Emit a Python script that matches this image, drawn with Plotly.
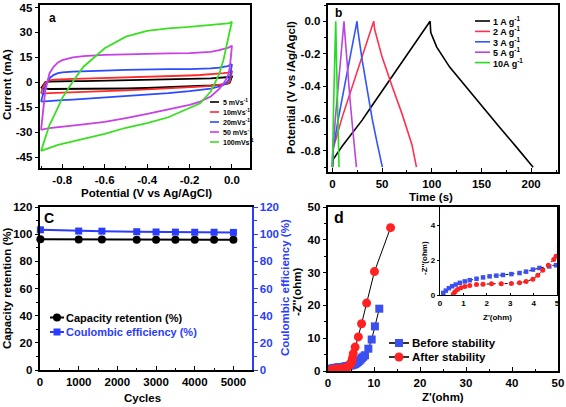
import plotly.graph_objects as go

W, H = 566, 407
FONT = "Liberation Sans, Arial, sans-serif"

# ---------------- Panel a: CV curves ----------------
V_GRID = [-0.9, -0.89, -0.88, -0.86, -0.84, -0.82, -0.8, -0.75, -0.7, -0.6, -0.5,
          -0.4, -0.3, -0.2, -0.15, -0.1, -0.06, -0.04, -0.02, -0.01, 0.0]
cv_labels = ["5 mVs<sup>-1</sup>", "10mVs<sup>-1</sup>", "20mVs<sup>-1</sup>",
             "50 mVs<sup>-1</sup>", "100mVs<sup>-1</sup>"]
cv_5_fwd = [-3.6, -1.5, 0.2, 0.5, 0.6, 0.6, 0.6, 0.7, 0.7, 0.9, 1.3, 1.7, 1.9, 2.1, 2.2, 2.4, 2.6, 2.8, 3.0, 3.2, 3.4]
cv_5_rev = [-3.6, -3.7, -3.8, -4.0, -4.1, -4.2, -4.2, -4.2, -4.1, -3.9, -3.7, -3.4, -3.0, -2.5, -2.2, -1.9, -1.5, -1.2, -0.8, -0.2, 3.4]
cv_10_fwd = [-6.6, -2.5, -0.2, 1.2, 1.6, 1.8, 1.9, 2.1, 2.2, 2.5, 2.9, 3.2, 3.6, 4.1, 4.4, 4.8, 5.2, 5.5, 5.9, 6.1, 6.4]
cv_10_rev = [-6.6, -6.6, -6.6, -6.5, -6.4, -6.3, -6.2, -6.0, -5.8, -5.4, -4.8, -4.2, -3.6, -3.0, -2.6, -2.1, -1.6, -1.2, -0.6, 0.5, 6.4]
cv_20_fwd = [-11.6, -6.0, -2.0, 2.5, 4.5, 5.5, 6.0, 6.5, 6.8, 7.1, 7.5, 7.9, 8.0, 8.0, 8.1, 8.4, 8.8, 9.2, 9.8, 10.3, 10.8]
cv_20_rev = [-11.6, -11.6, -11.5, -11.3, -11.1, -10.9, -10.7, -10.4, -10.0, -9.4, -8.3, -7.4, -6.5, -5.3, -4.6, -3.8, -2.5, -1.5, 0.5, 3.0, 10.8]
cv_50_fwd = [-28.6, -15.0, -5.0, 5.5, 9.5, 12.0, 13.3, 15.0, 15.8, 16.5, 16.9, 17.2, 17.4, 17.6, 17.8, 18.3, 19.3, 19.9, 20.7, 21.3, 22.0]
cv_50_rev = [-28.6, -28.3, -28.0, -27.5, -27.1, -26.8, -26.5, -25.9, -25.3, -23.8, -21.5, -19.0, -16.4, -13.5, -11.6, -8.5, -3.9, -0.8, 3.5, 9.0, 22.0]
cv_100_fwd = [-41.2, -37.5, -34.0, -25.5, -20.5, -14.5, -9.5, 0.5, 9.4, 20.5, 27.5, 31.0, 32.5, 33.3, 33.8, 34.3, 34.8, 35.1, 35.5, 35.8, 36.4]
cv_100_rev = [-41.2, -40.8, -40.3, -39.4, -38.5, -37.6, -36.8, -35.3, -33.8, -31.0, -27.3, -24.5, -21.0, -15.5, -12.6, -5.5, 5.0, 13.5, 24.5, 31.0, 36.4]
cv_colors = ["#000000", "#ff2a2a", "#2a4bff", "#c83fe6", "#3adf22"]
a_xticks = [-0.8, -0.6, -0.4, -0.2, 0.0]
a_xticktext = ["-0.8", "-0.6", "-0.4", "-0.2", "0.0"]
a_yticks = [-45, -30, -15, 0, 15, 30, 45]
a_yticktext = ["-45", "-30", "-15", "0", "15", "30", "45"]

# ---------------- Panel b: GCD curves ----------------
gcd_labels = ["1 A g<sup>-1</sup>", "2 A g<sup>-1</sup>", "3 A g<sup>-1</sup>",
              "5 A g<sup>-1</sup>", "10A g<sup>-1</sup>"]
gcd_1_t = [0, 1, 10, 20, 30, 40, 50, 60, 70, 80, 90, 95, 98.3, 99, 105, 118, 135, 152, 168, 185, 202]
gcd_1_v = [-0.9, -0.85, -0.77, -0.69, -0.61, -0.52, -0.43, -0.34, -0.25, -0.16, -0.07, -0.03, 0.0,
           -0.07, -0.16, -0.283, -0.41, -0.53, -0.652, -0.775, -0.9]
gcd_2_t = [0, 1, 10, 20, 30, 38, 41.6, 42.5, 50, 60, 70, 80, 84.6]
gcd_2_v = [-0.9, -0.78, -0.59, -0.4, -0.21, -0.07, 0.0, -0.05, -0.22, -0.4, -0.57, -0.76, -0.9]
gcd_3_t = [0, 0.5, 6, 12, 18.5, 24.8, 25.5, 30, 35, 40, 45, 50.3]
gcd_3_v = [-0.9, -0.8, -0.6, -0.4, -0.2, 0.0, -0.05, -0.24, -0.43, -0.6, -0.75, -0.9]
gcd_5_t = [0, 0.3, 3, 6, 9, 11.7, 12.2, 15, 18, 21, 24.2]
gcd_5_v = [-0.9, -0.82, -0.6, -0.38, -0.17, 0.0, -0.05, -0.28, -0.5, -0.7, -0.9]
gcd_10_t = [0, 0.3, 1.5, 2.5, 3.4, 4.0, 5.0, 6.0, 6.7]
gcd_10_v = [-0.9, -0.75, -0.45, -0.2, 0.0, -0.2, -0.45, -0.7, -0.9]
gcd_colors = ["#000000", "#ff3050", "#3355ff", "#bb44dd", "#22dd22"]
b_yticks = [0.0, -0.2, -0.4, -0.6, -0.8]
b_yticktext = ["0.0", "-0.2", "-0.4", "-0.6", "-0.8"]
b_xticks = [0, 50, 100, 150, 200]

# ---------------- Panel c: cycling ----------------
cycles = [10, 1000, 1600, 2500, 3000, 3500, 4000, 4500, 5000]
capacity_retention = [96.2, 96.0, 96.0, 95.9, 95.9, 95.9, 95.8, 95.8, 95.8]
coulombic_eff = [103.2, 102.3, 102.2, 101.8, 101.6, 101.5, 101.4, 101.4, 101.3]
c_xticks = [0, 1000, 2000, 3000, 4000, 5000]
c_yticks = [0, 20, 40, 60, 80, 100, 120]

# ---------------- Panel d: EIS ----------------
before_x = [0.14, 0.25, 0.38, 0.52, 0.67, 0.85, 1.06, 1.27, 1.56, 1.84, 2.12, 2.41, 2.69, 3.05,
            3.4, 3.68, 3.97, 4.25, 4.67, 4.96, 5.3, 5.6, 5.9, 6.2, 6.5, 6.8, 7.1, 7.4, 7.7,
            8.04, 8.77, 9.5, 10.2, 11.15]
before_y = [0.12, 0.25, 0.39, 0.5, 0.6, 0.7, 0.78, 0.85, 0.93, 1.01, 1.07, 1.11, 1.15, 1.2,
            1.26, 1.34, 1.46, 1.55, 1.64, 1.71, 1.8, 1.95, 2.15, 2.4, 2.75, 3.1, 3.5, 4.0, 4.4,
            4.8, 6.8, 9.6, 13.6, 19.0]
after_x = [0.57, 0.64, 0.75, 0.89, 1.06, 1.27, 1.56, 1.84, 2.2, 2.62, 3.05, 3.4, 3.68, 3.97,
           4.18, 4.39, 4.63, 4.86, 4.96, 5.1, 5.3, 5.5, 5.9, 6.6, 7.3, 8.4, 10.1, 13.6]
after_y = [0.06, 0.19, 0.31, 0.41, 0.49, 0.54, 0.6, 0.62, 0.64, 0.64, 0.66, 0.7, 0.78, 0.91,
           1.13, 1.42, 1.71, 2.04, 2.23, 2.8, 3.8, 5.3, 7.3, 10.4, 14.4, 20.7, 30.3, 43.7]
d_ticks = [0, 10, 20, 30, 40, 50]
inset_xticks = [0, 1, 2, 3, 4, 5]
inset_yticks = [0, 2, 4]


def X(px):
    return px / W


def Y(py):
    return 1 - py / H


fig = go.Figure()

# Panel a traces
cv_fwd = [cv_5_fwd, cv_10_fwd, cv_20_fwd, cv_50_fwd, cv_100_fwd]
cv_rev = [cv_5_rev, cv_10_rev, cv_20_rev, cv_50_rev, cv_100_rev]
for fwd, rev, col in zip(cv_fwd, cv_rev, cv_colors):
    fig.add_trace(go.Scatter(x=V_GRID + V_GRID[::-1], y=fwd + rev[::-1], mode="lines",
                             line=dict(color=col, width=1.8), xaxis="x", yaxis="y",
                             showlegend=False))

# Panel b traces
for t, v, col in zip([gcd_1_t, gcd_2_t, gcd_3_t, gcd_5_t, gcd_10_t],
                     [gcd_1_v, gcd_2_v, gcd_3_v, gcd_5_v, gcd_10_v], gcd_colors):
    fig.add_trace(go.Scatter(x=t, y=v, mode="lines", line=dict(color=col, width=1.6),
                             xaxis="x2", yaxis="y2", showlegend=False))

# Panel c traces
fig.add_trace(go.Scatter(x=cycles, y=capacity_retention, mode="lines+markers",
                         line=dict(color="#000000", width=2),
                         marker=dict(symbol="circle", size=8, color="#000000"),
                         xaxis="x3", yaxis="y3", showlegend=False, cliponaxis=False))
fig.add_trace(go.Scatter(x=cycles, y=coulombic_eff, mode="lines+markers",
                         line=dict(color="#2a3cff", width=2),
                         marker=dict(symbol="square", size=7, color="#2a3cff"),
                         xaxis="x3", yaxis="y5", showlegend=False, cliponaxis=False))

# Panel d traces
fig.add_trace(go.Scatter(x=before_x, y=before_y, mode="lines+markers",
                         line=dict(color="#000000", width=1),
                         marker=dict(symbol="square", size=8, color="#3a50f0"),
                         xaxis="x4", yaxis="y4", showlegend=False))
fig.add_trace(go.Scatter(x=after_x, y=after_y, mode="lines+markers",
                         line=dict(color="#000000", width=1),
                         marker=dict(symbol="circle", size=9, color="#ff2222"),
                         xaxis="x4", yaxis="y4", showlegend=False))
# Inset traces
fig.add_trace(go.Scatter(x=before_x, y=before_y, mode="lines+markers",
                         line=dict(color="#000000", width=1, dash="dot"),
                         marker=dict(symbol="square", size=4.5, color="#3a50f0"),
                         xaxis="x6", yaxis="y6", showlegend=False))
fig.add_trace(go.Scatter(x=after_x, y=after_y, mode="lines+markers",
                         line=dict(color="#000000", width=1, dash="dot"),
                         marker=dict(symbol="circle", size=5, color="#ff2222"),
                         xaxis="x6", yaxis="y6", showlegend=False))

tickfont = dict(family=FONT, size=11.5, color="#000000", weight="bold")


def minor(dt, color="#000", where="inside"):
    return dict(dtick=dt, tick0=0, ticks=where, ticklen=2.5, tickcolor=color)


def axis(domain, rng, anchor, **kw):
    d = dict(domain=domain, range=rng, anchor=anchor, showline=True, linecolor="#000000",
             linewidth=1.6, mirror=True, ticks="outside", ticklen=3.5, tickwidth=1.4,
             tickcolor="#000000", showgrid=False, zeroline=False, tickfont=tickfont,
             automargin=False)
    d.update(kw)
    return d


layout = dict(
    width=W, height=H, autosize=False, margin=dict(l=0, r=0, t=0, b=0, pad=0),
    paper_bgcolor="white", plot_bgcolor="white", showlegend=False,
    font=dict(family=FONT),
    xaxis=axis([X(40), X(250)], [-0.905, 0.085], "y", tickmode="array",
               tickvals=a_xticks, ticktext=a_xticktext, ticks="inside", ticklen=4,
               minor=minor(0.1)),
    yaxis=axis([Y(168), Y(5)], [-51.5, 46.5], "x", tickmode="array",
               tickvals=a_yticks, ticktext=a_yticktext),
    xaxis2=axis([X(328), X(558)], [-4.4, 227], "y2", tickmode="array", tickvals=b_xticks,
                ticks="inside", ticklen=4, minor=minor(25)),
    yaxis2=axis([Y(172), Y(5)], [-0.93, 0.1], "x2", tickmode="array",
                tickvals=b_yticks, ticktext=b_yticktext, minor=minor(0.1, where="outside")),
    xaxis3=axis([X(40), X(252)], [0, 5480], "y3", tickmode="array", tickvals=c_xticks,
                ticks="inside", ticklen=4, minor=minor(500)),
    yaxis3=axis([Y(370), Y(207)], [0, 120], "x3", tickmode="array", tickvals=c_yticks,
                mirror=False, minor=minor(10, where="outside")),
    yaxis5=axis([Y(370), Y(207)], [0, 120], "x3", overlaying="y3", side="right",
                tickmode="array", tickvals=c_yticks, mirror=False, linecolor="#2a3cff",
                linewidth=2, tickcolor="#2a3cff",
                tickfont=dict(family=FONT, size=11.5, color="#2a3cff", weight="bold"),
                minor=minor(10, "#2a3cff", "outside")),
    xaxis4=axis([X(328), X(558)], [0, 50], "y4", tickmode="array", tickvals=d_ticks,
                ticks="inside", ticklen=4, minor=minor(5)),
    yaxis4=axis([Y(371), Y(207)], [0, 50], "x4", tickmode="array", tickvals=d_ticks,
                minor=minor(5, where="outside")),
    xaxis6=axis([X(440), X(557)], [0, 5], "y6", tickmode="array", tickvals=inset_xticks,
                ticks="inside", ticklen=2, linewidth=1.2,
                tickfont=dict(family=FONT, size=8, color="#000", weight="bold")),
    yaxis6=axis([Y(295), Y(207)], [0, 5.05], "x6", tickmode="array", tickvals=inset_yticks,
                ticklen=2, linewidth=1.2,
                tickfont=dict(family=FONT, size=8, color="#000", weight="bold")),
)
fig.update_layout(**layout)

ann = []
shapes = []


def text(px, py, s, size=11.5, color="#000000", angle=0, xanchor="center"):
    ann.append(dict(x=X(px), y=Y(py), xref="paper", yref="paper", text=s, showarrow=False,
                    textangle=angle, xanchor=xanchor, yanchor="middle",
                    font=dict(family=FONT, size=size, color=color, weight="bold")))


def hline(x0, x1, py, color, width=1.6):
    shapes.append(dict(type="line", xref="paper", yref="paper", x0=X(x0), x1=X(x1),
                       y0=Y(py), y1=Y(py), line=dict(color=color, width=width)))


def marker(px, py, kind, size, color):
    shapes.append(dict(type=kind, xref="paper", yref="paper", xsizemode="pixel",
                       ysizemode="pixel", xanchor=X(px), yanchor=Y(py),
                       x0=-size / 2, x1=size / 2, y0=-size / 2, y1=size / 2,
                       fillcolor=color, line=dict(color=color, width=0)))


# Axis titles
text(7, 85, "Current (mA)", angle=-90)
text(146, 193, "Potential (V vs Ag/AgCl)")
text(291, 88, "Potential (V vs /Ag/Agcl)", angle=-90)
text(431, 197, "Time (s)")
text(7, 288, "Capacity retention (%)", angle=-90)
text(285, 288, "Coulombic efficiency (%)", color="#2a3cff", angle=-90)
text(142, 398, "Cycles")
text(297, 292, "-Z''(ohm)", angle=-90)
text(443, 397, "Z'(ohm)")
text(424, 258, "-Z''(ohm)", size=8, angle=-90)
text(497, 317, "Z'(ohm)", size=8)

# Panel letters
text(52, 18, "a", size=12)
text(338, 13, "b", size=12)
text(49, 218, "C", size=14)
text(339, 217, "d", size=16)

# Legend a
for i, (lab, col) in enumerate(zip(cv_labels, cv_colors)):
    py = 102 + 10 * i
    hline(210, 219, py, col, 1.6)
    text(220.5, py, lab, size=7, xanchor="left")

# Legend b
for i, (lab, col) in enumerate(zip(gcd_labels, gcd_colors)):
    py = 21 + 10.4 * i
    hline(475, 490, py, col, 1.6)
    text(491, py, lab, size=9, xanchor="left")

# Legend c
hline(50, 64, 317.5, "#000000", 2)
marker(57, 317.5, "circle", 8, "#000000")
text(64, 317.5, "Capacity retention (%)", size=11, xanchor="left")
hline(50, 64, 332, "#2a3cff", 2)
marker(57, 332, "rect", 7, "#2a3cff")
text(64, 332, "Coulombic efficiency (%)", size=11, color="#2a3cff", xanchor="left")

# Legend d
hline(389, 409, 343, "#000000", 1.6)
marker(399, 343, "rect", 8, "#3a50f0")
text(410, 343, "Before stability", size=11.5, xanchor="left")
hline(389, 409, 357, "#000000", 1.6)
marker(399, 357, "circle", 9, "#ff2222")
text(410, 357, "After stability", size=11.5, xanchor="left")

fig.update_layout(annotations=ann, shapes=shapes)
fig.write_html("out.html", config={"displayModeBar": False},
               post_script="document.body.style.margin='0';document.body.style.overflow='hidden';")
